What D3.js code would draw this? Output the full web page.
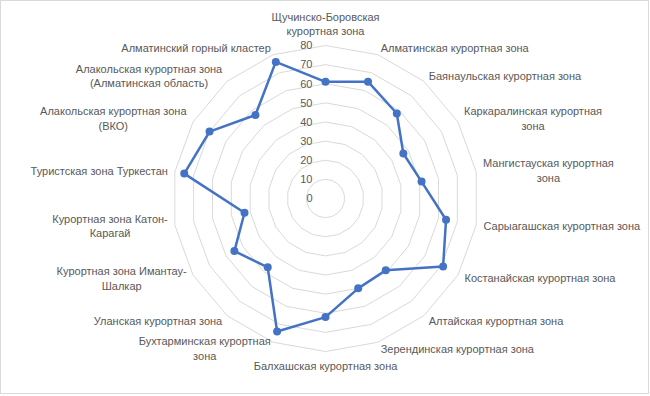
<!DOCTYPE html>
<html>
<head>
<meta charset="utf-8">
<script src="https://cdn.jsdelivr.net/npm/d3@7"></script>
<style>
  body { margin: 0; background: #fff; }
  text { font-family: "Liberation Sans", Arial, sans-serif; fill: #595959; }
</style>
</head>
<body>
<script>
// categories, clockwise from top ("\n" = line break in label)
var categories = [
    "Щучинско-Боровская\nкурортная зона",
    "Алматинская курортная зона",
    "Баянаульская курортная зона",
    "Каркаралинская курортная\nзона",
    "Мангистауская курортная\nзона",
    "Сарыагашская курортная зона",
    "Костанайская курортная зона",
    "Алтайская курортная зона",
    "Зерендинская курортная зона",
    "Балхашская курортная зона",
    "Бухтарминская курортная\nзона",
    "Уланская курортная зона",
    "Курортная зона Имантау-\nШалкар",
    "Курортная зона Катон-\nКарагай",
    "Туристская зона Туркестан",
    "Алакольская курортная зона\n(ВКО)",
    "Алакольская курортная зона\n(Алматинская область)",
    "Алматинский горный кластер"
];
var values = [61, 65, 58, 47, 51, 64, 71, 49, 50, 62, 74, 47, 55, 43, 75, 70, 57, 76];
var ticks = [0, 10, 20, 30, 40, 50, 60, 70, 80];

var w = 650,
    h = 396,
    cx = 325.5,
    cy = 198.5,
    fontSize = 11,
    lineH = 14.5;

var svg = d3.select("body")
    .append("svg")
    .attr("width", w)
    .attr("height", h);

svg.append("rect")
    .attr("x", 0.5)
    .attr("y", 0.5)
    .attr("width", w - 2)
    .attr("height", h - 3)
    .style("fill", "#fff")
    .style("stroke", "#d9d9d9");

var r = d3.scaleLinear().domain([0, 80]).range([0, 153]);
var ang = d3.scaleLinear().domain([0, categories.length]).range([0, 2 * Math.PI]);

var g = svg.append("g").attr("transform", "translate(" + cx + "," + cy + ")");

var pt = function(i, rad) {
    return [rad * Math.sin(ang(i)), -rad * Math.cos(ang(i))];
};

// grid polygons
var ring = d3.line().curve(d3.curveLinearClosed);
g.selectAll("path.grid")
    .data(ticks.filter(function(t) { return t > 0; }))
    .enter()
    .append("path")
    .attr("class", "grid")
    .attr("d", function(t) {
        return ring(categories.map(function(c, i) { return pt(i, r(t)); }));
    })
    .style("fill", "none")
    .style("stroke", "#d9d9d9")
    .style("stroke-width", 1);

// tick labels
g.selectAll("text.tick")
    .data(ticks)
    .enter()
    .append("text")
    .attr("class", "tick")
    .attr("x", -13)
    .attr("y", function(t) { return -r(t); })
    .attr("dy", "0.35em")
    .attr("text-anchor", "end")
    .style("font-size", fontSize + "px")
    .text(function(t) { return t; });

// data line
var line = d3.line()
    .x(function(d, i) { return pt(i, r(d))[0]; })
    .y(function(d, i) { return pt(i, r(d))[1]; })
    .curve(d3.curveLinearClosed);

g.append("path")
    .datum(values)
    .attr("d", line)
    .style("fill", "none")
    .style("stroke", "#4472c4")
    .style("stroke-width", 2.5)
    .style("stroke-linejoin", "round");

g.selectAll("circle.dot")
    .data(values)
    .enter()
    .append("circle")
    .attr("class", "dot")
    .attr("cx", function(d, i) { return pt(i, r(d))[0]; })
    .attr("cy", function(d, i) { return pt(i, r(d))[1]; })
    .attr("r", 4)
    .style("fill", "#4472c4");

// category labels
var labR = r(80) + 7;
categories.forEach(function(c, i) {
    var lines = c.split("\n");
    var p = pt(i, labR);
    var s = Math.sin(ang(i)), co = Math.cos(ang(i));
    var blockH = lines.length * lineH;
    var top;
    if (Math.abs(s) < 0.01) {
        top = co > 0 ? p[1] - blockH : p[1];
    } else {
        top = p[1] - blockH / 2;
    }
    var t = g.append("text")
        .style("font-size", fontSize + "px")
        .attr("text-anchor", "middle");
    lines.forEach(function(l, k) {
        t.append("tspan")
            .attr("x", 0)
            .attr("y", top + lineH * (k + 0.5))
            .attr("dy", "0.35em")
            .text(l);
    });
    var bw = t.node().getBBox().width;
    var x = p[0];
    if (s > 0.01) x = p[0] + bw / 2;
    else if (s < -0.01) x = p[0] - bw / 2;
    t.selectAll("tspan").attr("x", x);
});
</script>
</body>
</html>
